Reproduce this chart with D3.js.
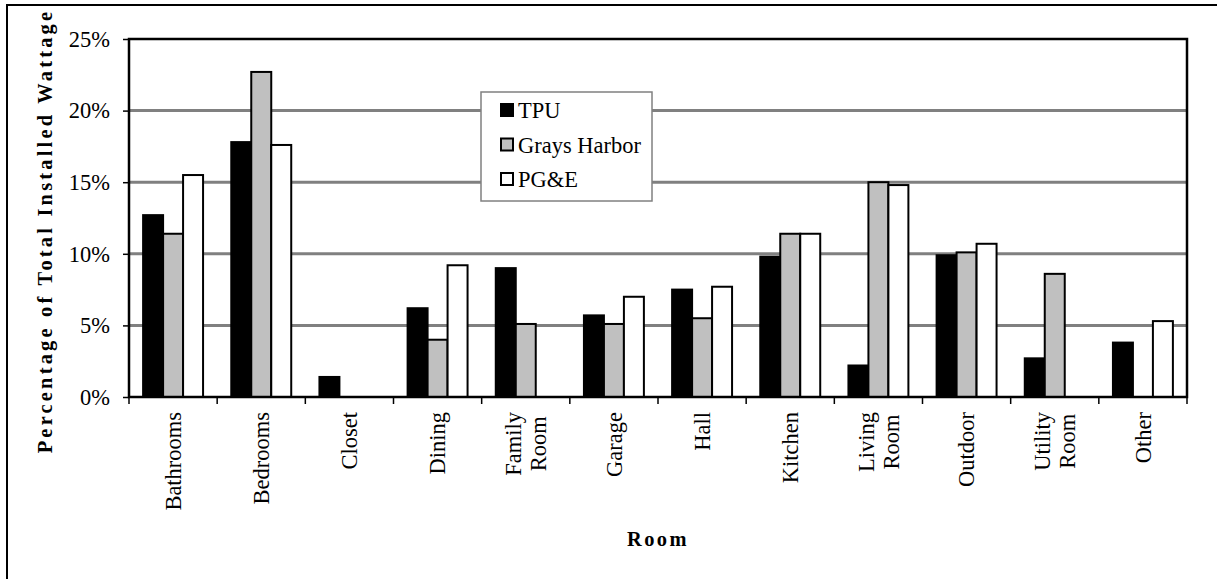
<!DOCTYPE html>
<html>
<head>
<meta charset="utf-8">
<script src="https://cdn.jsdelivr.net/npm/d3@7"></script>
<style>
  body { margin: 0; background: #fff; }
  svg text { font-family: "Liberation Serif", "Times New Roman", Tinos, "DejaVu Serif", "Noto Serif", serif; fill: #000; }
</style>
</head>
<body>
<div id="chart"></div>
<script>
var width = 1217;
var height = 579;

// data (percent of total installed wattage)
var rooms = ["Bathrooms", "Bedrooms", "Closet", "Dining", "Family\nRoom", "Garage",
             "Hall", "Kitchen", "Living\nRoom", "Outdoor", "Utility\nRoom", "Other"];
var seriesNames = ["TPU", "Grays Harbor", "PG&E"];
var tpu         = [12.7, 17.8, 1.4, 6.2, 9.0, 5.7, 7.5, 9.8, 2.2, 9.9, 2.7, 3.8];
var graysHarbor = [11.4, 22.7, 0,   4.0, 5.1, 5.1, 5.5, 11.4, 15.0, 10.1, 8.6, 0];
var pge         = [15.5, 17.6, 0,   9.2, 0,   7.0, 7.7, 11.4, 14.8, 10.7, 0,   5.3];
var yTicks = [0, 5, 10, 15, 20, 25];
var fills = ["#000000", "#c0c0c0", "#ffffff"];

var values = [tpu, graysHarbor, pge];

var margin = { left: 129, right: 30, top: 39, bottom: 182 };
var plotW = width - margin.left - margin.right;
var plotH = height - margin.top - margin.bottom;

var svg = d3.select("#chart")
    .append("svg")
    .attr("width", width)
    .attr("height", height);

// scale fonts so a test string has the width seen in the picture,
// in case the serif face falls back to a wider one
var probe = svg.append("text").style("font-size", "22px").text("Grays Harbor");
var fk = 123 / probe.node().getComputedTextLength();
probe.remove();
var fs = px => (px * fk).toFixed(2) + "px";

// outer frame (only left and top edges show in the crop)
svg.append("rect")
    .attr("x", 7).attr("y", 5)
    .attr("width", width + 20).attr("height", height + 20)
    .attr("fill", "#fff")
    .attr("stroke", "#000")
    .attr("stroke-width", 2);

var g = svg.append("g")
    .attr("transform", "translate(" + margin.left + "," + margin.top + ")");

var x0 = d3.scaleBand()
    .domain(d3.range(rooms.length))
    .range([0, plotW])
    .paddingInner(0.32)
    .paddingOuter(0.16);

var x1 = d3.scaleBand()
    .domain(d3.range(seriesNames.length))
    .range([0, x0.bandwidth()]);

var y = d3.scaleLinear()
    .domain([0, 25])
    .range([plotH, 0]);

// gridlines
g.selectAll(".grid")
    .data(yTicks.slice(1, -1))
    .enter()
    .append("line")
    .attr("x1", 0).attr("x2", plotW)
    .attr("y1", d => y(d)).attr("y2", d => y(d))
    .attr("stroke", "#808080")
    .attr("stroke-width", 3);

// bars
var rows = [];
rooms.forEach((r, i) => {
    values.forEach((s, j) => {
        if (s[i] > 0) rows.push({ i: i, j: j, v: s[i] });
    });
});

g.selectAll(".bar")
    .data(rows)
    .enter()
    .append("rect")
    .attr("x", d => x0(d.i) + x1(d.j))
    .attr("y", d => y(d.v))
    .attr("width", x1.bandwidth())
    .attr("height", d => plotH - y(d.v))
    .attr("fill", d => fills[d.j])
    .attr("stroke", "#000")
    .attr("stroke-width", 2);

// plot frame
g.append("rect")
    .attr("width", plotW).attr("height", plotH)
    .attr("fill", "none")
    .attr("stroke", "#000")
    .attr("stroke-width", 2.5);

// y axis
var yAxis = g.append("g")
    .call(d3.axisLeft(y).tickValues(yTicks).tickFormat(d => d + "%").tickSize(6).tickSizeOuter(0));
yAxis.attr("font-family", null);
yAxis.select(".domain").remove();
yAxis.selectAll("line").attr("stroke", "#000").attr("stroke-width", 1.5);
yAxis.selectAll("text")
    .attr("x", -19)
    .style("font-size", fs(22));

// x ticks at category boundaries
var step = x0.step();
g.selectAll(".xtick")
    .data(d3.range(rooms.length + 1))
    .enter()
    .append("line")
    .attr("x1", d => d * step).attr("x2", d => d * step)
    .attr("y1", plotH).attr("y2", plotH + 7)
    .attr("stroke", "#000")
    .attr("stroke-width", 1.5);

// category labels, rotated
var lineGap = 25;
var labelTop = plotH + 15;
rooms.forEach((r, i) => {
    var lines = r.split("\n");
    var cx = x0(i) + x0.bandwidth() / 2;
    var lg = g.append("g");
    var texts = lines.map((t, k) => lg.append("text")
        .attr("transform", "translate(" + (cx + (k - (lines.length - 1) / 2) * lineGap) + "," + labelTop + ") rotate(-90)")
        .attr("dy", "0.35em")
        .style("font-size", fs(22))
        .text(t));
    var maxLen = d3.max(texts, t => t.node().getComputedTextLength());
    texts.forEach(t => {
        t.attr("text-anchor", "middle")
         .attr("x", -maxLen / 2);
    });
});

// axis titles
svg.append("text")
    .attr("transform", "translate(45,231) rotate(-90)")
    .attr("text-anchor", "middle")
    .attr("dy", "0.35em")
    .style("font-size", fs(20))
    .style("font-weight", "bold")
    .style("letter-spacing", "3.2px")
    .text("Percentage of Total Installed Wattage");

svg.append("text")
    .attr("x", margin.left + plotW / 2)
    .attr("y", 546)
    .attr("text-anchor", "middle")
    .style("font-size", fs(20))
    .style("font-weight", "bold")
    .style("letter-spacing", "2.5px")
    .text("Room");

// legend
var legend = svg.append("g").attr("transform", "translate(481,92)");
legend.append("rect")
    .attr("width", 171).attr("height", 109)
    .attr("fill", "#fff")
    .attr("stroke", "#808080")
    .attr("stroke-width", 1.5);

var item = legend.selectAll(".item")
    .data(seriesNames)
    .enter()
    .append("g")
    .attr("transform", (d, i) => "translate(20," + (12 + i * 34.5) + ")");
item.append("rect")
    .attr("width", 12).attr("height", 12)
    .attr("fill", (d, i) => fills[i])
    .attr("stroke", "#000")
    .attr("stroke-width", 2);
item.append("text")
    .attr("x", 17)
    .attr("y", 14)
    .style("font-size", fs(22))
    .text(d => d);
</script>
</body>
</html>
